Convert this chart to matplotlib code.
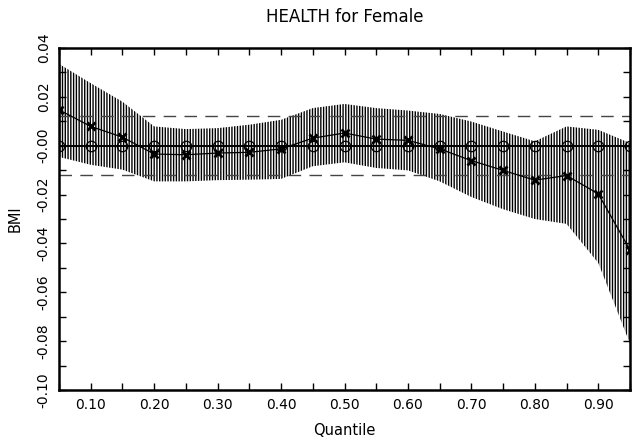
import numpy as np
import matplotlib
matplotlib.use('Agg')
from matplotlib import pyplot as plt
from matplotlib.ticker import MultipleLocator, FormatStrFormatter

# quantile regression estimates
quantiles = [0.05, 0.10, 0.15, 0.20, 0.25, 0.30, 0.35, 0.40, 0.45, 0.50,
             0.55, 0.60, 0.65, 0.70, 0.75, 0.80, 0.85, 0.90, 0.95]
coef = [0.0147, 0.0079, 0.0035, -0.0034, -0.0037, -0.0030, -0.0027, -0.0013, 0.0031, 0.0052,
        0.0027, 0.0022, -0.0013, -0.0061, -0.0101, -0.0141, -0.0122, -0.0197, -0.0427]
upper = [0.0335, 0.0256, 0.0180, 0.0079, 0.0068, 0.0072, 0.0086, 0.0106, 0.0154, 0.0171,
         0.0154, 0.0144, 0.0130, 0.0099, 0.0058, 0.0018, 0.0079, 0.0065, 0.0011]
lower = [-0.0046, -0.0078, -0.0098, -0.0146, -0.0146, -0.0141, -0.0139, -0.0136, -0.0084, -0.0068,
         -0.0091, -0.0101, -0.0146, -0.0210, -0.0260, -0.0300, -0.0320, -0.0480, -0.0810]
ols_ci = [-0.012, 0.012]
zero_line = [0.0] * len(quantiles)

plt.rcParams['hatch.linewidth'] = 1.0
plt.rcParams['font.family'] = 'DejaVu Sans'

fig = plt.figure(figsize=(6.44, 4.41), dpi=100)
ax = fig.add_axes([59 / 644, 51 / 441, 571 / 644, 342 / 441])

# confidence band drawn as vertical hatching
ax.fill_between(quantiles, lower, upper, facecolor='white', edgecolor='black',
                hatch='||||||', linewidth=0, zorder=1)

for c in ols_ci:
    ax.axhline(c, color='#444444', linewidth=1.0, dashes=(9, 6), zorder=2)

ax.plot(quantiles, zero_line, color='black', linewidth=1.4, marker='o', markersize=7.5,
        markerfacecolor='none', markeredgecolor='black', markeredgewidth=0.9, zorder=3)
ax.plot(quantiles, coef, color='black', linewidth=0.9, marker='x', markersize=6,
        markeredgewidth=2.0, zorder=4)

ax.set_xlim(0.05, 0.95)
ax.set_ylim(-0.10, 0.04)
ax.xaxis.set_major_locator(MultipleLocator(0.10))
ax.xaxis.set_minor_locator(MultipleLocator(0.05))
ax.yaxis.set_major_locator(MultipleLocator(0.02))
ax.yaxis.set_minor_locator(MultipleLocator(0.01))
ax.xaxis.set_major_formatter(FormatStrFormatter('%.2f'))
ax.yaxis.set_major_formatter(FormatStrFormatter('%.2f'))
ax.set_xticks([0.1, 0.2, 0.3, 0.4, 0.5, 0.6, 0.7, 0.8, 0.9])

ax.tick_params(which='both', direction='in', top=True, right=True, width=1.0)
ax.tick_params(which='major', length=5, labelsize=10, pad=6)
ax.tick_params(which='minor', length=5)
for lab in ax.get_yticklabels():
    lab.set_rotation(90)
    lab.set_va('center')

for s in ax.spines.values():
    s.set_linewidth(1.8)

ax.set_xlabel('Quantile', fontsize=10.5, labelpad=8)
ax.set_ylabel('BMI', fontsize=10.5, labelpad=10)
ax.set_title('HEALTH for Female', fontsize=12, pad=19)

fig.savefig('out.png', dpi=100)
